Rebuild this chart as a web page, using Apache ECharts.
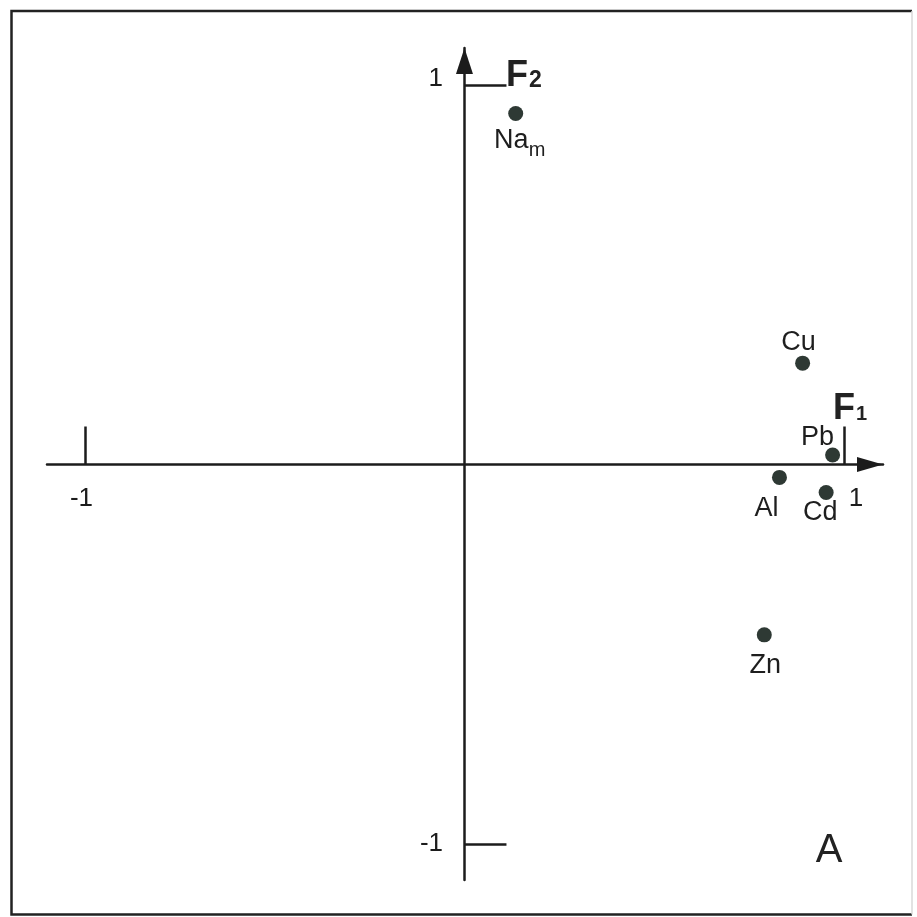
<!DOCTYPE html>
<html>
<head>
<meta charset="utf-8">
<script src="https://cdn.jsdelivr.net/npm/echarts@6/dist/echarts.min.js"></script>
<style>
html,body{margin:0;padding:0;background:#fff;}
#chart{width:917px;height:917px;}
</style>
</head>
<body>
<div id="chart"></div>
<script>
// loadings on the first two factors
const elements = ['Na_m', 'Cu', 'Pb', 'Al', 'Cd', 'Zn'];
const f1Values = [0.135, 0.891, 0.970, 0.830, 0.953, 0.790];
const f2Values = [0.925, 0.267, 0.025, -0.034, -0.074, -0.449];
const tickValues = [-1, 1];

// where each element name sits relative to its dot (px)
const labelOffsets = {
  Na_m: [4, 27], Cu: [-4, -21], Pb: [-15, -17], Al: [-13, 31], Cd: [-6, 20], Zn: [1, 31]
};

const inkColor = '#1c1c1c';
const dotColor = '#2e3934';
const fontFamily = 'Liberation Sans, Arial, sans-serif';

function elementLabel(name){
  let parts = name.split('_');
  return parts.length > 1 ? `{n|${parts[0]}}{s|${parts[1]}}` : `{n|${name}}`;
}

const chart = echarts.init(document.getElementById('chart'));

let option = {
  animation:false,
  grid:{left:47, right:34, top:48, bottom:37, outerBoundsMode:'none', containLabel:false},
  xAxis:{
    type:'value',
    min:-1.1,
    max:1.1028,
    splitLine:{show:false},
    axisLine:{
      onZero:true,
      symbol:['none','triangle'],
      symbolSize:[15,26],
      symbolOffset:[0,-13],
      lineStyle:{color:inkColor, width:2.5}
    },
    axisTick:{
      customValues:tickValues,
      inside:true,
      length:38,
      lineStyle:{color:inkColor, width:2.5}
    },
    axisLabel:{
      customValues:tickValues,
      // labels sit under the zero line, not at the grid edge
      margin:-394,
      formatter:(v)=> v < 0 ? `{l|${v}}` : `{r|${v}}`,
      rich:{
        l:{fontSize:26, fontFamily, color:inkColor, padding:[0,7,0,0]},
        r:{fontSize:26, fontFamily, color:inkColor, padding:[0,0,0,24]}
      }
    }
  },
  yAxis:{
    type:'value',
    min:-1.095,
    max:1.0975,
    splitLine:{show:false},
    axisLine:{
      onZero:true,
      symbol:['none','triangle'],
      symbolSize:[17,26],
      symbolOffset:[0,-13],
      lineStyle:{color:inkColor, width:2.5}
    },
    axisTick:{
      customValues:tickValues,
      inside:true,
      length:42,
      lineStyle:{color:inkColor, width:2.5}
    },
    axisLabel:{
      customValues:tickValues,
      margin:-396,
      formatter:(v)=> v < 0 ? `{l|${v}}` : `{u|${v}}`,
      rich:{
        l:{fontSize:26, fontFamily, color:inkColor},
        u:{fontSize:26, fontFamily, color:inkColor, padding:[0,0,12,0]}
      }
    }
  },
  series:[{
    type:'scatter',
    symbolSize:15,
    itemStyle:{color:dotColor, opacity:1},
    data:elements.map((name,i)=>({
      name,
      value:[f1Values[i], f2Values[i]],
      label:{offset:labelOffsets[name]}
    })),
    label:{
      show:true,
      position:'inside',
      color:'#1e1e1e',
      opacity:1,
      textBorderWidth:0,
      formatter:(p)=>elementLabel(p.name),
      rich:{
        n:{fontSize:27, fontFamily, color:'#1e1e1e'},
        s:{fontSize:20, fontFamily, color:'#1e1e1e', padding:[20,0,0,0]}
      }
    }
  }],
  graphic:[
    {
      type:'polyline',
      shape:{points:[[912,11],[11.5,11],[11.5,914.5],[912,914.5]]},
      style:{stroke:'#222', lineWidth:2.5, fill:null}
    },
    {
      type:'line',
      shape:{x1:912, y1:11, x2:912, y2:914.5},
      style:{stroke:'#d8d8d8', lineWidth:1.5}
    },
    {
      type:'text',
      x:506, y:94,
      style:{
        text:'{f|F}{s|2}',
        verticalAlign:'bottom',
        rich:{
          f:{fontSize:36, fontWeight:'bold', fontFamily, fill:'#222'},
          s:{fontSize:23, fontWeight:'bold', fontFamily, fill:'#222', padding:[10,0,0,1]}
        }
      }
    },
    {
      type:'text',
      x:833, y:427,
      style:{
        text:'{f|F}{s|1}',
        verticalAlign:'bottom',
        rich:{
          f:{fontSize:36, fontWeight:'bold', fontFamily, fill:'#222'},
          s:{fontSize:20, fontWeight:'bold', fontFamily, fill:'#222', padding:[10,0,0,1]}
        }
      }
    },
    {
      type:'text',
      x:829, y:851,
      style:{
        text:'A',
        align:'center',
        verticalAlign:'middle',
        fontSize:40,
        fontFamily,
        fill:'#222'
      }
    }
  ]
};

chart.setOption(option);
</script>
</body>
</html>
